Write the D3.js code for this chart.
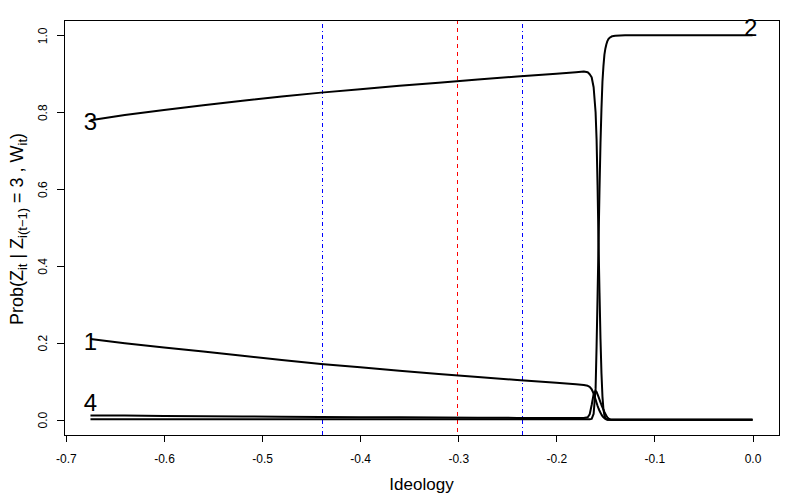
<!DOCTYPE html>
<html>
<head>
  <meta charset="utf-8">
  <title>Prob of state given previous state 3</title>
  <script src="https://cdn.jsdelivr.net/npm/d3@7"></script>
  <style>
    body { margin: 0; background: white; }
    svg { font-family: "Liberation Sans", Arial, Helvetica, sans-serif; }
  </style>
</head>
<body>
<script>
  // Data
  var ideology = [-0.675, -0.64, -0.60, -0.56, -0.52, -0.48, -0.44, -0.40, -0.36, -0.32,
                  -0.28, -0.24, -0.20, -0.18, -0.172, -0.168, -0.166, -0.164, -0.162, -0.160,
                  -0.159, -0.158, -0.157, -0.156, -0.155, -0.154, -0.153, -0.152, -0.151, -0.150,
                  -0.149, -0.148, -0.147, -0.146, -0.145, -0.143, -0.140, -0.13, -0.10, -0.05, 0.0];
  var state1 = [0.210, 0.199, 0.188, 0.177, 0.166, 0.155, 0.145, 0.136, 0.127, 0.119,
                0.111, 0.103, 0.096, 0.092, 0.090, 0.088, 0.085, 0.079, 0.068, 0.052,
                0.044, 0.036, 0.029, 0.023, 0.018, 0.013, 0.009, 0.006, 0.004, 0.002,
                0.001, 0, 0, 0, 0, 0, 0, 0, 0, 0, 0];
  var state2 = [0.001, 0.001, 0.001, 0.001, 0.001, 0.001, 0.001, 0.001, 0.001, 0.001,
                0.001, 0.001, 0.001, 0.001, 0.001, 0.001, 0.001, 0.002, 0.015, 0.08,
                0.19, 0.32, 0.46, 0.60, 0.72, 0.81, 0.88, 0.92, 0.95, 0.966,
                0.977, 0.985, 0.990, 0.993, 0.995, 0.998, 0.999, 1.0, 1.0, 1.0, 1.0];
  var state3 = [0.779, 0.793, 0.806, 0.818, 0.830, 0.841, 0.851, 0.860, 0.869, 0.877,
                0.885, 0.893, 0.900, 0.904, 0.906, 0.904, 0.899, 0.891, 0.865, 0.80,
                0.73, 0.61, 0.46, 0.33, 0.21, 0.12, 0.06, 0.027, 0.011, 0.004,
                0.001, 0, 0, 0, 0, 0, 0, 0, 0, 0, 0];
  var state4 = [0.011, 0.0105, 0.0095, 0.009, 0.008, 0.0075, 0.007, 0.0065, 0.006, 0.0055,
                0.005, 0.0045, 0.004, 0.004, 0.004, 0.006, 0.014, 0.038, 0.066, 0.075,
                0.072, 0.066, 0.059, 0.052, 0.045, 0.038, 0.032, 0.026, 0.020, 0.015,
                0.010, 0.006, 0.003, 0.0015, 0.0005, 0, 0, 0, 0, 0, 0];
  var cutoffs = [-0.439, -0.301, -0.235];
  var stateNames = ["1", "2", "3", "4"];
  var labelX = [-0.675, -0.002, -0.675, -0.675];
  var labelY = [0.203, 1.022, 0.775, 0.045];
  var xTicks = [-0.7, -0.6, -0.5, -0.4, -0.3, -0.2, -0.1, 0.0];
  var yTicks = [0.0, 0.2, 0.4, 0.6, 0.8, 1.0];

  // Consts
  var margin = {top: 20, right: 21, bottom: 65, left: 64};
  var width = 800;
  var height = 500;

  var svg = d3.select("body")
              .append("svg")
              .attr("width", width)
              .attr("height", height);
  var g = svg.append("g")
             .attr("transform", "translate(" + margin.left + "," + margin.top + ")");

  width = width - margin.left - margin.right;
  height = height - margin.top - margin.bottom;

  // R style 4% padding
  function pad(ext) {
    var d = (ext[1] - ext[0]) * 0.04;
    return [ext[0] - d, ext[1] + d];
  }
  var series = [state1, state2, state3, state4];
  var x = d3.scaleLinear().domain(pad(d3.extent(ideology))).range([0, width]);
  var y = d3.scaleLinear().domain(pad([0, d3.max(series, function(s) { return d3.max(s); })])).range([height, 0]);

  // Cutoff lines
  var cutColor = ["#0000ff", "#ff0000", "#0000ff"];
  var cutDash = ["1,3,4,3", "4,4", "1,3,4,3"];
  g.selectAll(".cut")
    .data(cutoffs)
    .enter()
    .append("line")
      .attr("class", "cut")
      .attr("x1", function(d) { return Math.round(x(d)) + 0.5; })
      .attr("x2", function(d) { return Math.round(x(d)) + 0.5; })
      .attr("y1", 0)
      .attr("y2", height)
      .style("stroke", function(d, i) { return cutColor[i]; })
      .attr("stroke-width", 1)
      .attr("stroke-dasharray", function(d, i) { return cutDash[i]; });

  // Curves
  var line = d3.line()
               .x(function(d, i) { return x(ideology[i]); })
               .y(function(d) { return y(d); });
  g.selectAll(".curve")
    .data(series)
    .enter()
    .append("path")
      .attr("class", "curve")
      .attr("d", line)
      .attr("fill", "none")
      .attr("stroke", "#000")
      .attr("stroke-width", 2)
      .attr("stroke-linejoin", "round");

  // State labels
  g.selectAll(".lab")
    .data(stateNames)
    .enter()
    .append("text")
      .attr("class", "lab")
      .attr("x", function(d, i) { return x(labelX[i]); })
      .attr("y", function(d, i) { return y(labelY[i]); })
      .attr("dy", "0.36em")
      .attr("text-anchor", "middle")
      .attr("font-size", 24)
      .attr("fill", "#000")
      .text(function(d) { return d; });

  // axisBottom
  var xAxis = g.append("g")
      .attr("transform", "translate(0," + height + ")")
      .call(d3.axisBottom(x)
              .tickValues(xTicks)
              .tickSize(7)
              .tickPadding(12)
              .tickFormat(function(d) { return d.toFixed(1); }));
  xAxis.select(".domain").remove();
  xAxis.attr("font-size", 12).attr("font-family", null);
  xAxis.selectAll("line").attr("shape-rendering", "crispEdges");

  // axisLeft, labels rotated like R
  var yAxis = g.append("g")
      .call(d3.axisLeft(y)
              .tickValues(yTicks)
              .tickSize(7)
              .tickFormat(function(d) { return d.toFixed(1); }));
  yAxis.select(".domain").remove();
  yAxis.attr("font-size", 12).attr("font-family", null);
  yAxis.selectAll("line").attr("shape-rendering", "crispEdges");
  yAxis.selectAll("text")
      .attr("x", 0)
      .attr("y", -17)
      .attr("dy", 0)
      .attr("text-anchor", "middle")
      .attr("transform", "rotate(-90)");

  // Box
  g.append("rect")
    .attr("x", 0)
    .attr("y", 0)
    .attr("width", width)
    .attr("height", height)
    .attr("fill", "none")
    .attr("stroke", "#000")
    .attr("shape-rendering", "crispEdges");

  // Axis titles
  svg.append("text")
    .attr("x", margin.left + width / 2)
    .attr("y", 490)
    .attr("text-anchor", "middle")
    .attr("font-size", 17)
    .text("Ideology");

  var yt = svg.append("text")
    .attr("transform", "translate(23,229) rotate(-90)")
    .attr("text-anchor", "middle")
    .attr("font-size", 18);
  yt.append("tspan").text("Prob(Z");
  yt.append("tspan").attr("font-size", 13).attr("dy", 4).text("it");
  yt.append("tspan").attr("dy", -4).text(" | Z");
  yt.append("tspan").attr("font-size", 13).attr("dy", 4).text("i(t\u22121)");
  yt.append("tspan").attr("dy", -4).text(" = 3 , W");
  yt.append("tspan").attr("font-size", 13).attr("dy", 4).text("it");
  yt.append("tspan").attr("dy", -4).text(")");
</script>
</body>
</html>
